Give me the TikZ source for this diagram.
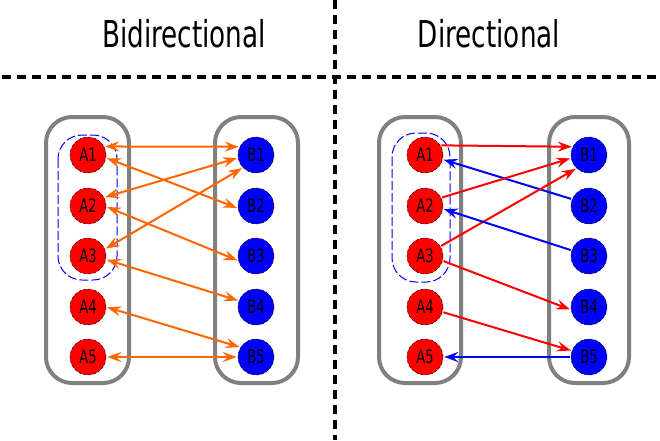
\documentclass[tikz,border=0pt]{standalone}
\usepackage{fontspec}
\setmainfont[FakeStretch=0.71]{DejaVu Sans}
\usetikzlibrary{arrows.meta}
\definecolor{link-orange}{HTML}{FF6600}
\definecolor{fwd-red}{HTML}{FF0000}
\definecolor{back-blue}{HTML}{0000FF}
\definecolor{panel-gray}{HTML}{808080}

\begin{document}
\begin{tikzpicture}[x=1pt, y=-1pt,
    every node/.style={font=\fontsize{18.5}{22}\selectfont},
    anode/.style={circle, draw=black, densely dashed, line width=0.4pt,
      fill=red, minimum size=36pt, inner sep=0pt},
    bnode/.style={circle, draw=black, densely dashed, line width=0.4pt,
      fill=blue, minimum size=36pt, inner sep=0pt},
    group/.style={draw=panel-gray, line width=4pt, rounded corners=26pt},
    subset/.style={draw=back-blue, line width=1pt,
      dash pattern=on 9pt off 3pt, rounded corners=24pt},
    divider/.style={draw=black, line width=3.3pt, dash pattern=on 9pt off 6pt},
    title/.style={font=\fontsize{37}{44}\selectfont, anchor=base},
    link/.style={line width=2pt, shorten <=1pt, shorten >=1pt},
    >={Stealth[length=14pt, width=10pt, inset=5pt]}]
    \useasboundingbox (0,0) rectangle (660,440);

    % headings and dividers
    \draw[divider] (335,0) -- (335,440);
    \draw[divider] (2,77) -- (660,77);
    \node[title] (bi-title) at (184,47) {Bidirectional};
    \node[title] (di-title) at (489,47) {Directional};

    % bidirectional panel
    \draw[group] (46,117) rectangle (129,383);
    \draw[group] (215,117) rectangle (298,383);
    \draw[subset] (58,135) rectangle (117,280);
    \node[anode] (la1) at (88,155) {A1};
    \node[anode] (la2) at (88,206) {A2};
    \node[anode] (la3) at (88,256) {A3};
    \node[anode] (la4) at (88,307) {A4};
    \node[anode] (la5) at (88,357) {A5};
    \node[bnode] (lb1) at (256,155) {B1};
    \node[bnode] (lb2) at (256,206) {B2};
    \node[bnode] (lb3) at (256,256) {B3};
    \node[bnode] (lb4) at (256,307) {B4};
    \node[bnode] (lb5) at (256,357) {B5};
    \draw[link, <->, color=link-orange] (la1.28) -- (lb1.153);
    \draw[link, <->, color=link-orange] (la1.-9) -- (lb2.187);
    \draw[link, <->, color=link-orange] (la2.28) -- (lb1.189);
    \draw[link, <->, color=link-orange] (la3.22) -- (lb1.224);
    \draw[link, <->, color=link-orange] (la2.-2) -- (lb3.195);
    \draw[link, <->, color=link-orange] (la3.-11) -- (lb4.160);
    \draw[link, <->, color=link-orange] (la4.0) -- (lb5.148);
    \draw[link, <->, color=link-orange] (la5.0) -- (lb5.180);

    % directional panel
    \draw[group] (379,117) rectangle (461,383);
    \draw[group] (549,117) rectangle (629,383);
    \draw[subset] (392,133) rectangle (450,282);
    \node[anode] (ra1) at (425,155) {A1};
    \node[anode] (ra2) at (425,206) {A2};
    \node[anode] (ra3) at (425,256) {A3};
    \node[anode] (ra4) at (425,307) {A4};
    \node[anode] (ra5) at (425,357) {A5};
    \node[bnode] (rb1) at (589,155) {B1};
    \node[bnode] (rb2) at (589,206) {B2};
    \node[bnode] (rb3) at (589,256) {B3};
    \node[bnode] (rb4) at (589,307) {B4};
    \node[bnode] (rb5) at (589,357) {B5};
    \draw[link, ->, color=fwd-red] (ra1.32) -- (rb1.153);
    \draw[link, ->, color=back-blue] (rb2.158) -- (ra1.-14);
    \draw[link, ->, color=fwd-red] (ra2.27) -- (rb1.190);
    \draw[link, ->, color=fwd-red] (ra3.32) -- (rb1.227);
    \draw[link, ->, color=back-blue] (rb3.162) -- (ra2.-9);
    \draw[link, ->, color=fwd-red] (ra3.-15) -- (rb4.189);
    \draw[link, ->, color=fwd-red] (ra4.-16) -- (rb5.160);
    \draw[link, ->, color=back-blue] (rb5.180) -- (ra5.0);
\end{tikzpicture}
\end{document}
